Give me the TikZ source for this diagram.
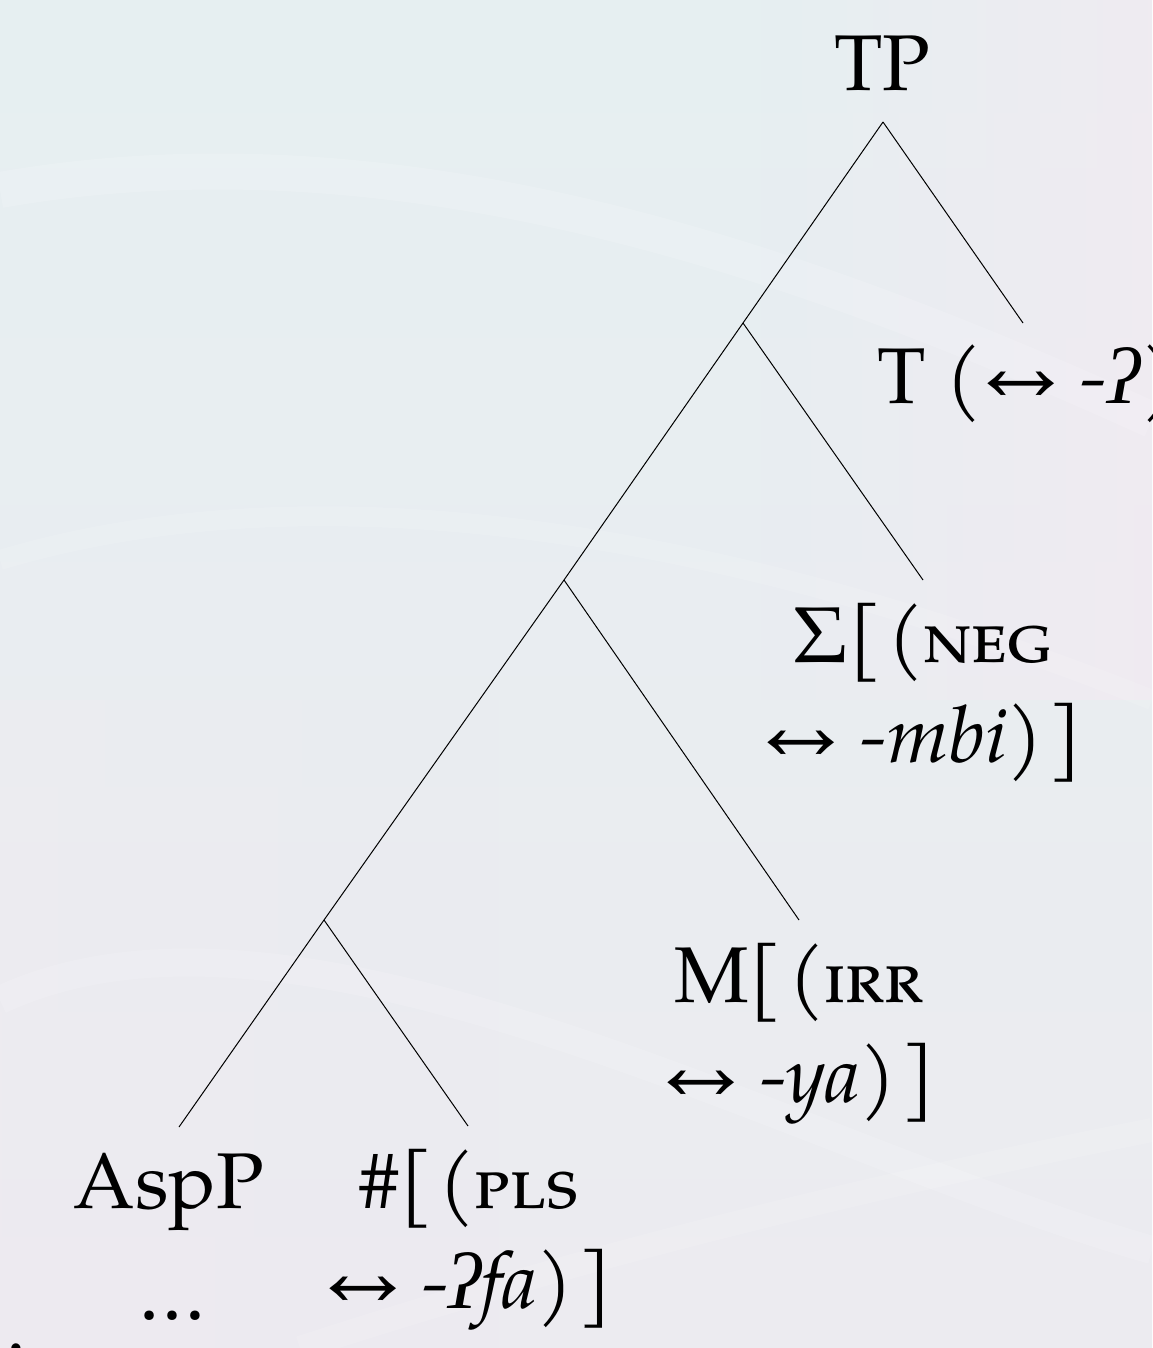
\documentclass[tikz,border=0pt]{standalone}
\usepackage{mathpazo}
\usepackage[no-math]{fontspec}
\setmainfont{TeX Gyre Pagella}
\newfontfamily\ipafont{Liberation Serif}
\usetikzlibrary{fadings}
\definecolor{bgA}{RGB}{230,239,241}
\definecolor{bgB}{RGB}{236,235,240}
\definecolor{bgPink}{RGB}{243,234,242}
\newcommand{\gs}{{\ipafont\itshape ʔ}}
\newcommand{\lra}{↔}
\newcommand{\bk}{\kern0.07em}
\tikzset{
  lbl/.style={font=\fontsize{39.5}{48}\selectfont, inner sep=0pt, anchor=base},
  branch/.style={line width=0.5pt, black},
}
\begin{document}
\begin{tikzpicture}[x=0.5pt,y=-0.5pt]
\useasboundingbox (0,0) rectangle (1152,1348);
% background
\shade[top color=bgA, bottom color=bgB] (0,0) rectangle (1152,1348);
\fill[bgPink, path fading=west, opacity=0.7] (760,0) rectangle (1152,700);
\fill[bgPink, path fading=east, opacity=0.25] (0,700) rectangle (500,1348);
\draw[white, opacity=0.15, line width=18pt] (0,190) .. controls (400,120) and (800,260) .. (1152,420);
\draw[white, opacity=0.12, line width=10pt] (0,560) .. controls (300,470) and (700,520) .. (1152,700);
\draw[white, opacity=0.15, line width=14pt] (0,1000) .. controls (300,860) and (800,1150) .. (1152,1250);
\draw[white, opacity=0.12, line width=12pt] (300,1348) .. controls (600,1250) and (900,1180) .. (1152,1130);

% labels
\node[lbl] (tp) at (882.5,91) {TP};
\node[lbl, anchor=base west] (t) at (877,403) {T (\lra{} \textit{-\gs})};
\node[lbl] (sig1) at (922.5,662) {$\Sigma$[\bk(\textsc{neg}};
\node[lbl] (sig2) at (922,762) {\lra{} \textit{-mbi})\bk]};
\node[lbl] (m1) at (799,1002) {M[\bk(\textsc{irr}};
\node[lbl] (m2) at (798.5,1102) {\lra{} \textit{-ya})\bk]};
\node[lbl] (asp) at (169,1208) {AspP};
\node[lbl] (dots) at (172.5,1320) {\dots};
\node[lbl] (num1) at (469,1208) {\#[\bk(\textsc{pls}};
\node[lbl] (num2) at (468,1308) {\lra{} \textit{-\gs fa})\bk]};
\node[lbl, anchor=base east] (ex) at (27,1352) {1.};

% tree points
\coordinate (tpb) at (883,122);
\coordinate (n1) at (743,323);
\coordinate (n2) at (564,580);
\coordinate (n3) at (324,920);
\coordinate (tt) at (1023,323);
\coordinate (sigt) at (923,580);
\coordinate (mt) at (799,920);
\coordinate (aspt) at (179,1127);
\coordinate (numt) at (468,1126);

% branches
\draw[branch] (tpb) -- (n1);
\draw[branch] (tpb) -- (tt);
\draw[branch] (n1) -- (n2);
\draw[branch] (n1) -- (sigt);
\draw[branch] (n2) -- (n3);
\draw[branch] (n2) -- (mt);
\draw[branch] (n3) -- (aspt);
\draw[branch] (n3) -- (numt);
\end{tikzpicture}
\end{document}
